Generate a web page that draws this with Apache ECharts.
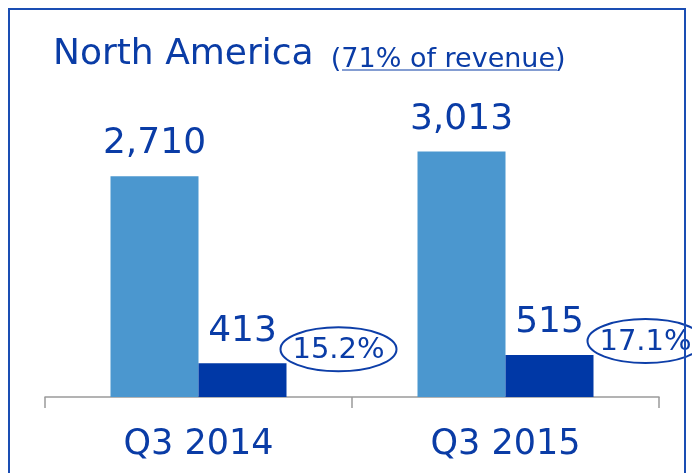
<!DOCTYPE html>
<html>
<head>
<meta charset="utf-8">
<script src="https://cdn.jsdelivr.net/npm/echarts@6/dist/echarts.min.js"></script>
<style>
  html, body { margin: 0; padding: 0; background: #fff; }
  #chart { width: 692px; height: 473px; }
</style>
</head>
<body>
<div id="chart"></div>
<script>
// data
var categories = ['Q3 2014', 'Q3 2015'];
var revenue = [2710, 3013];
var ebitda = [413, 515];
var margin = [15.2, 17.1];

var FONT = 'DejaVu Sans';
var TEXT_BLUE = '#0a3ca6';

var myChart = echarts.init(document.getElementById('chart'));

var option = {
    animation: false,
    backgroundColor: '#fff',
    title: {
        left: 53,
        top: 37,
        padding: 0,
        text: '{a|North America}{b|  (71% of revenue)}',
        textStyle: {
            fontWeight: 'normal',
            rich: {
                a: { fontFamily: FONT, fontWeight: 'normal', fontSize: 36, lineHeight: 36, color: TEXT_BLUE, verticalAlign: 'bottom' },
                b: { fontFamily: FONT, fontWeight: 'normal', fontSize: 27, lineHeight: 27, color: TEXT_BLUE, verticalAlign: 'bottom' }
            }
        }
    },
    grid: {
        left: 45,
        right: 33,
        top: 71,
        bottom: 76
    },
    xAxis: {
        type: 'category',
        data: categories,
        axisLine: { lineStyle: { color: '#9a9a9a', width: 1.5 } },
        axisTick: { show: true, length: 11, lineStyle: { color: '#9a9a9a', width: 1.5 } },
        axisLabel: {
            margin: 30,
            fontFamily: FONT,
            fontSize: 35,
            color: TEXT_BLUE
        }
    },
    yAxis: {
        type: 'value',
        min: 0,
        max: 4000,
        show: false
    },
    series: [
        {
            name: 'revenue',
            type: 'bar',
            barWidth: 88,
            barGap: '0%',
            itemStyle: { color: '#4b97cf' },
            label: {
                show: true,
                position: 'top',
                distance: 14,
                fontFamily: FONT,
                fontSize: 36,
                color: TEXT_BLUE,
                formatter: function (p) { return p.value.toLocaleString('en-US'); }
            },
            data: revenue
        },
        {
            name: 'ebitda',
            type: 'bar',
            barWidth: 88,
            itemStyle: { color: '#0038a6' },
            label: {
                show: true,
                position: 'top',
                distance: 14,
                fontFamily: FONT,
                fontSize: 36,
                color: TEXT_BLUE
            },
            data: ebitda
        },
        {
            // margin ellipses next to the dark bars
            name: 'margin',
            type: 'custom',
            clip: false,
            z: 5,
            data: categories.map(function (c, i) { return [i, ebitda[i], margin[i]]; }),
            renderItem: function (params, api) {
                var pt = api.coord([api.value(0), api.value(1)]);
                var cx = pt[0] + 140;
                var cy = pt[1] - 14;
                return {
                    type: 'group',
                    children: [
                        {
                            type: 'ellipse',
                            shape: { cx: cx, cy: cy, rx: 58, ry: 22 },
                            style: { fill: 'rgba(255,255,255,0)', stroke: '#0d3ea8', lineWidth: 2 }
                        },
                        {
                            type: 'text',
                            x: cx,
                            y: cy + 1,
                            style: {
                                text: api.value(2).toFixed(1) + '%',
                                fontFamily: FONT,
                                fontSize: 29,
                                fill: TEXT_BLUE,
                                align: 'center',
                                verticalAlign: 'middle'
                            }
                        }
                    ]
                };
            }
        }
    ],
    graphic: [
        {
            // underline under "71% of revenue"
            type: 'line',
            z: 10,
            shape: { x1: 342, y1: 70, x2: 557, y2: 70 },
            style: { stroke: TEXT_BLUE, lineWidth: 1.2 }
        },
        {
            // frame
            type: 'rect',
            z: 100,
            shape: { x: 9, y: 9, width: 676, height: 490 },
            style: { fill: 'none', stroke: '#1a4db3', lineWidth: 2 }
        }
    ]
};

myChart.setOption(option);
</script>
</body>
</html>
